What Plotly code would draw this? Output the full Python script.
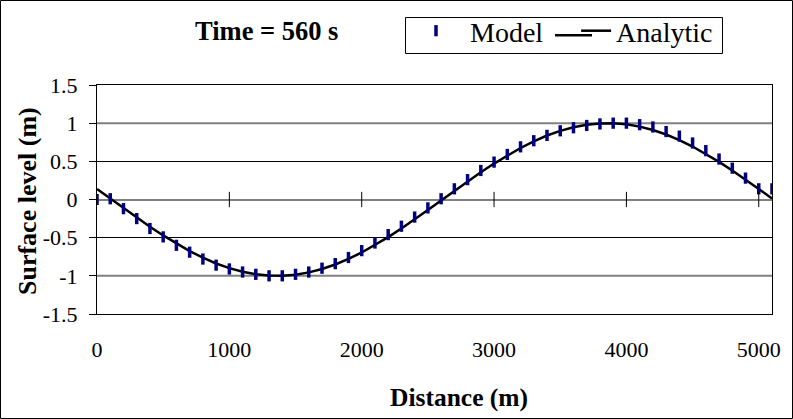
import plotly.graph_objects as go

# Water surface elevation along the channel at t = 560 s
distance_m = [0, 100, 200, 300, 400, 500, 600, 700, 800, 900,
              1000, 1100, 1200, 1300, 1400, 1500, 1600, 1700, 1800, 1900,
              2000, 2100, 2200, 2300, 2400, 2500, 2600, 2700, 2800, 2900,
              3000, 3100, 3200, 3300, 3400, 3500, 3600, 3700, 3800, 3900,
              4000, 4100, 4200, 4300, 4400, 4500, 4600, 4700, 4800, 4900,
              5000, 5100]

model_level = [0.00, 0.01, -0.12, -0.25, -0.38, -0.49, -0.60, -0.69, -0.78, -0.86,
               -0.91, -0.95, -0.98, -1.00, -1.00, -0.98, -0.95, -0.90, -0.84, -0.76,
               -0.67, -0.57, -0.46, -0.35, -0.23, -0.11, 0.01, 0.14, 0.26, 0.38,
               0.49, 0.59, 0.69, 0.77, 0.84, 0.90, 0.94, 0.97, 0.99, 1.00,
               1.00, 0.98, 0.95, 0.89, 0.83, 0.74, 0.64, 0.53, 0.41, 0.28,
               0.14, 0.14]

analytic_level = [0.138, 0.013, -0.113, -0.237, -0.356, -0.471, -0.578, -0.675, -0.762, -0.838,
                  -0.899, -0.947, -0.980, -0.997, -0.999, -0.985, -0.955, -0.910, -0.851, -0.778,
                  -0.694, -0.598, -0.493, -0.381, -0.263, -0.138, -0.013, 0.113, 0.237, 0.356,
                  0.471, 0.578, 0.675, 0.762, 0.838, 0.899, 0.947, 0.980, 0.997, 0.999,
                  0.985, 0.955, 0.910, 0.851, 0.778, 0.694, 0.598, 0.493, 0.381, 0.263,
                  0.138, 0.013]

x_ticks = [0, 1000, 2000, 3000, 4000, 5000]
x_tick_text = ["0", "1000", "2000", "3000", "4000", "5000"]
y_ticks = [-1.5, -1, -0.5, 0, 0.5, 1, 1.5]
y_tick_text = ["-1.5", "-1", "-0.5", "0", "0.5", "1", "1.5"]

W, H = 793, 419
ML, MR, MT, MB = 97, 21, 85, 105
PW, PH = W - ML - MR, H - MT - MB
SERIF = "Liberation Serif"
NB = "\u00a0"

fig = go.Figure()

fig.add_trace(go.Scatter(
    x=distance_m, y=analytic_level, name="Analytic", mode="lines",
    line=dict(color="black", width=2.5),
))
fig.add_trace(go.Scatter(
    x=distance_m, y=model_level, name=NB * 2 + "Model" + NB * 4, mode="markers",
    marker=dict(symbol="line-ns", size=8, color="#000080",
                line=dict(color="#000080", width=3.5)),
))


def px_x(p):
    return (p - ML) / PW


def px_y(p):
    return (MT + PH - p) / PH


shapes = []
# gray gridlines at +/-1, drawn over the black grid but under the data
for yv in (1, -1):
    shapes.append(dict(type="line", xref="x", yref="y", x0=0, x1=5100, y0=yv, y1=yv,
                       line=dict(color="#808080", width=2), layer="between"))
# cross ticks on the zero line
for xv in x_ticks[1:]:
    shapes.append(dict(type="line", xref="x", yref="y", x0=xv, x1=xv, y0=-0.1, y1=0.1,
                       line=dict(color="black", width=1)))
# outer chart border
shapes.append(dict(type="rect", xref="paper", yref="paper",
                   x0=px_x(0.5), x1=px_x(W - 0.5), y0=px_y(H - 0.5), y1=px_y(0.5),
                   line=dict(color="black", width=1)))
# legend frame
shapes.append(dict(type="rect", xref="paper", yref="paper",
                   x0=px_x(405.5), x1=px_x(722.5), y0=px_y(53.5), y1=px_y(17.5),
                   line=dict(color="black", width=1), fillcolor="white", layer="below"))
# longer legend sample line for the analytic curve
shapes.append(dict(type="line", xref="paper", yref="paper",
                   x0=px_x(555), x1=px_x(592), y0=px_y(35.25), y1=px_y(35.25),
                   line=dict(color="black", width=2.5)))

annotations = [
    dict(text="<b>Time = 560 s</b>", x=px_x(266), y=px_y(31), xref="paper", yref="paper",
         xanchor="center", yanchor="middle",
         showarrow=False, font=dict(family=SERIF, size=26.5, color="black")),
    dict(text="<b>Distance (m)</b>", x=px_x(459), y=px_y(397), xref="paper", yref="paper",
         xanchor="center", yanchor="middle",
         showarrow=False, font=dict(family=SERIF, size=25.5, color="black")),
    dict(text="<b>Surface level (m)</b>", x=px_x(27), y=px_y(201), xref="paper", yref="paper",
         xanchor="center", yanchor="middle",
         showarrow=False, textangle=-90, font=dict(family=SERIF, size=26, color="black")),
]

fig.update_layout(
    width=W, height=H,
    margin=dict(l=ML, r=MR, t=MT, b=MB, pad=0, autoexpand=False),
    paper_bgcolor="white", plot_bgcolor="white",
    font=dict(family=SERIF, size=22, color="black"),
    showlegend=True,
    legend=dict(
        orientation="h", traceorder="reversed",
        x=px_x(416), y=px_y(31), xanchor="left", yanchor="middle",
        borderwidth=0, bgcolor="rgba(0,0,0,0)",
        font=dict(family=SERIF, size=28, color="black"),
    ),
    shapes=shapes,
    annotations=annotations,
)

fig.update_xaxes(
    range=[0, 5100], tickvals=x_ticks, ticktext=x_tick_text,
    showgrid=False, zeroline=False,
    showline=True, linecolor="black", linewidth=1, mirror=True,
    ticks="", ticklabelstandoff=16, automargin=False,
    tickfont=dict(family=SERIF, size=22, color="black"),
)
fig.update_yaxes(
    range=[-1.5, 1.5], tickvals=y_ticks, ticktext=y_tick_text,
    showgrid=True, gridcolor="black", gridwidth=1,
    zeroline=True, zerolinecolor="#808080", zerolinewidth=2,
    showline=True, linecolor="black", linewidth=1, mirror=True,
    ticks="outside", ticklen=7, tickcolor="black", ticklabelstandoff=7, automargin=False,
    tickfont=dict(family=SERIF, size=22, color="black"),
)

fig.write_html("out.html")
